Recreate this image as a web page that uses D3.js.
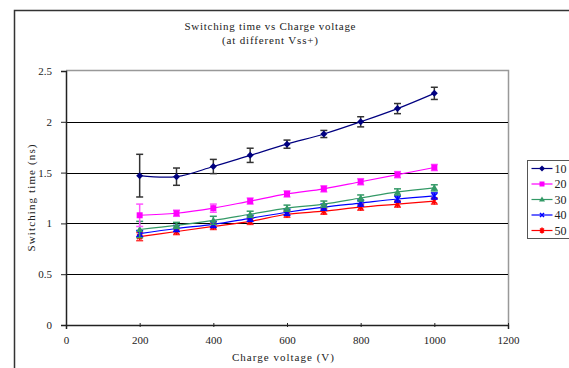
<!DOCTYPE html>
<html>
<head>
<meta charset="utf-8">
<script src="https://cdn.jsdelivr.net/npm/d3@7"></script>
<style>
  body { margin: 0; background: #fff; }
  svg { display: block; }
  text { font-family: "Liberation Serif", "DejaVu Serif", serif; fill: #222; }
</style>
</head>
<body>
<div id="chart"></div>
<script>
// dados
const voltages = [200, 300, 400, 500, 600, 700, 800, 900, 1000];
const seriesNames = ['10', '20', '30', '40', '50'];
const s10 = [1.47, 1.46, 1.56, 1.67, 1.78, 1.88, 2.00, 2.13, 2.28];
const s20 = [1.08, 1.10, 1.15, 1.22, 1.29, 1.34, 1.41, 1.48, 1.55];
const s30 = [0.94, 0.98, 1.03, 1.09, 1.15, 1.19, 1.25, 1.31, 1.35];
const s40 = [0.90, 0.95, 0.99, 1.05, 1.11, 1.16, 1.20, 1.24, 1.27];
const s50 = [0.87, 0.92, 0.97, 1.02, 1.09, 1.12, 1.16, 1.19, 1.22];
const e10 = [0.21, 0.085, 0.07, 0.07, 0.04, 0.035, 0.05, 0.05, 0.06];
const e20 = [0.11, 0.03, 0.04, 0.03, 0.03, 0.03, 0.03, 0.03, 0.03];
const e30 = [0.08, 0.03, 0.04, 0.03, 0.03, 0.03, 0.03, 0.03, 0.03];
const e40 = [0.03, 0.03, 0.03, 0.03, 0.03, 0.03, 0.03, 0.03, 0.03];
const e50 = [0.04, 0.03, 0.03, 0.03, 0.03, 0.03, 0.03, 0.03, 0.03];
const xTicks = [0, 200, 400, 600, 800, 1000, 1200];
const yTicks = [0, 0.5, 1, 1.5, 2, 2.5];

const width = 569, height = 368;
const margin = { left: 66, right: 61, top: 71, bottom: 43 };

const series = [
  { name: seriesNames[0], values: s10, errors: e10, color: '#000080', errColor: '#333', symbol: 'diamond' },
  { name: seriesNames[1], values: s20, errors: e20, color: '#ff00ff', errColor: '#ff55ff', symbol: 'square' },
  { name: seriesNames[2], values: s30, errors: e30, color: '#339966', errColor: '#339966', symbol: 'triangle' },
  { name: seriesNames[3], values: s40, errors: e40, color: '#0000ff', errColor: '#0000ff', symbol: 'x' },
  { name: seriesNames[4], values: s50, errors: e50, color: '#ff0000', errColor: '#ff3333', symbol: 'star' }
];

const svg = d3.select('#chart').append('svg')
  .attr('width', width)
  .attr('height', height);

// moldura externa
svg.append('rect')
  .attr('x', 14.5).attr('y', 10.5)
  .attr('width', 700).attr('height', 500)
  .attr('fill', 'none').attr('stroke', '#333').attr('stroke-width', 1.5);

const x = d3.scaleLinear().domain([0, 1200]).range([margin.left, width - margin.right]);
const y = d3.scaleLinear().domain([0, 2.5]).range([height - margin.bottom, margin.top]);

// borda da área do gráfico (cinza)
svg.append('path')
  .attr('d', `M${x(0)},${y(2.5) - 0.5}H${x(1200) + 0.5}V${y(0)}`)
  .attr('fill', 'none').attr('stroke', '#999').attr('stroke-width', 1.5);

// linhas de grade
svg.append('g')
  .selectAll('line')
  .data(yTicks.filter(d => d > 0 && d < 2.5))
  .enter().append('line')
  .attr('x1', x(0)).attr('x2', x(1200))
  .attr('y1', d => Math.round(y(d)) + 0.5).attr('y2', d => Math.round(y(d)) + 0.5)
  .attr('stroke', '#000').attr('stroke-width', 1);

// eixos
const xAxis = svg.append('g')
  .attr('transform', `translate(0,${y(0)})`)
  .call(d3.axisBottom(x).tickValues(xTicks).tickSize(4).tickPadding(7).tickFormat(d3.format('d')));
xAxis.select('.domain').attr('stroke', '#222').attr('stroke-width', 1.5);
xAxis.selectAll('.tick line').attr('stroke', '#222').attr('transform', 'translate(0,-2)');
xAxis.selectAll('text').attr('font-size', 11).attr('fill', '#222')
  .attr('font-family', '"Liberation Serif", serif');

const yAxis = svg.append('g')
  .attr('transform', `translate(${x(0)},0)`)
  .call(d3.axisLeft(y).tickValues(yTicks).tickSize(5).tickPadding(9).tickFormat(d => d));
yAxis.select('.domain').attr('stroke', '#222').attr('stroke-width', 1.5);
yAxis.selectAll('.tick line').attr('stroke', '#222');
yAxis.selectAll('text').attr('font-size', 11).attr('fill', '#222')
  .attr('font-family', '"Liberation Serif", serif');

// títulos
svg.append('text')
  .attr('x', 270).attr('y', 30)
  .attr('text-anchor', 'middle').attr('font-size', 11)
  .attr('textLength', 171).attr('lengthAdjust', 'spacing')
  .text('Switching time vs Charge voltage');
svg.append('text')
  .attr('x', 270).attr('y', 44)
  .attr('text-anchor', 'middle').attr('font-size', 11)
  .attr('textLength', 96).attr('lengthAdjust', 'spacing')
  .text('(at different Vss+)');
svg.append('text')
  .attr('x', 283).attr('y', 361)
  .attr('text-anchor', 'middle').attr('font-size', 11)
  .attr('textLength', 102).attr('lengthAdjust', 'spacing')
  .text('Charge voltage (V)');
svg.append('text')
  .attr('transform', `translate(35,${y(1.25)}) rotate(-90)`)
  .attr('text-anchor', 'middle').attr('font-size', 11)
  .attr('textLength', 107).attr('lengthAdjust', 'spacing')
  .text('Switching time (ns)');

// marcadores
function drawMarker(g, symbol, color, size) {
  const s = size;
  if (symbol === 'diamond') {
    g.append('path').attr('d', `M0,${-s}L${s},0L0,${s}L${-s},0Z`).attr('fill', color);
  } else if (symbol === 'square') {
    g.append('rect').attr('x', -s + 0.5).attr('y', -s + 0.5).attr('width', 2 * s - 1).attr('height', 2 * s - 1).attr('fill', color);
  } else if (symbol === 'triangle') {
    g.append('path').attr('d', `M0,${-s}L${s},${s - 1}L${-s},${s - 1}Z`).attr('fill', color);
  } else if (symbol === 'x') {
    g.append('path').attr('d', `M${-s + 1},${-s + 1}L${s - 1},${s - 1}M${-s + 1},${s - 1}L${s - 1},${-s + 1}`)
      .attr('stroke', color).attr('stroke-width', 1.5);
  } else if (symbol === 'star') {
    g.append('path').attr('d', `M${-s + 1},${-s + 1}L${s - 1},${s - 1}M${-s + 1},${s - 1}L${s - 1},${-s + 1}M0,${-s}L0,${s}`)
      .attr('stroke', color).attr('stroke-width', 1.5);
  }
}

const line = d3.line()
  .x((d, i) => x(voltages[i]))
  .y(d => y(d))
  .curve(d3.curveCatmullRom.alpha(0.5));

// séries desenhadas de trás para frente
series.slice().reverse().forEach(s => {
  const g = svg.append('g');
  // barras de erro
  const eb = g.selectAll('.err')
    .data(s.values.map((v, i) => ({ v, e: s.errors[i], xv: voltages[i] })))
    .enter().append('g');
  eb.append('line')
    .attr('x1', d => x(d.xv)).attr('x2', d => x(d.xv))
    .attr('y1', d => y(d.v + d.e)).attr('y2', d => y(d.v - d.e))
    .attr('stroke', s.errColor).attr('stroke-width', 1.5);
  [1, -1].forEach(sign => {
    eb.append('line')
      .attr('x1', d => x(d.xv) - 3.5).attr('x2', d => x(d.xv) + 3.5)
      .attr('y1', d => y(d.v + sign * d.e)).attr('y2', d => y(d.v + sign * d.e))
      .attr('stroke', s.errColor).attr('stroke-width', 1.5);
  });
  g.append('path')
    .attr('d', line(s.values))
    .attr('fill', 'none').attr('stroke', s.color).attr('stroke-width', 1.2);
  s.values.forEach((v, i) => {
    const m = g.append('g').attr('transform', `translate(${x(voltages[i])},${y(v)})`);
    drawMarker(m, s.symbol, s.color, 3.5);
  });
});

// legenda
const legend = svg.append('g').attr('transform', 'translate(527.5,160.5)');
legend.append('rect')
  .attr('width', 100).attr('height', 78)
  .attr('fill', '#fff').attr('stroke', '#555').attr('stroke-width', 1);
const item = legend.selectAll('.legend')
  .data(series)
  .enter().append('g')
  .attr('class', 'legend')
  .attr('transform', (d, i) => `translate(0,${8 + i * 15.5})`);
item.append('line')
  .attr('x1', 4).attr('x2', 25).attr('y1', 0).attr('y2', 0)
  .attr('stroke', d => d.color).attr('stroke-width', 1.2);
item.each(function (d) {
  const m = d3.select(this).append('g').attr('transform', 'translate(14.5,0)');
  drawMarker(m, d.symbol, d.color, 3);
});
item.append('text')
  .attr('x', 27).attr('y', 4)
  .attr('font-size', 12)
  .text(d => d.name);
</script>
</body>
</html>
